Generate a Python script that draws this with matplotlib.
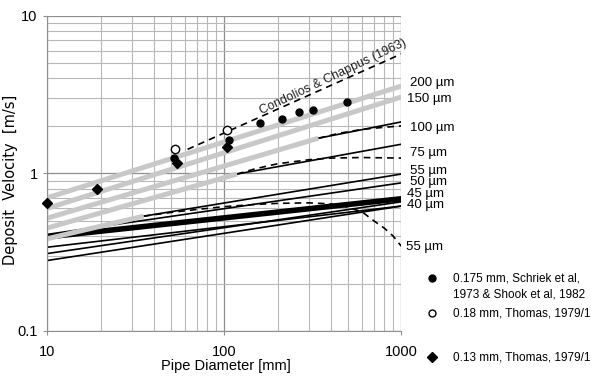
import numpy as np
import matplotlib.pyplot as plt
from matplotlib.lines import Line2D
from matplotlib.ticker import LogLocator, NullFormatter, FixedLocator, FixedFormatter

plt.rcParams['font.family'] = ['Liberation Sans', 'DejaVu Sans']

#############################
### Data ###

# grey lines (model, straight part)
g200_x, g200_y = [10, 1000], [0.70, 3.58]
g150_x, g150_y = [10, 1000], [0.60, 3.05]
g100_x, g100_y = [10, 340], [0.52, 1.67]
g75_x, g75_y = [10, 118], [0.45, 0.99]
g55_x, g55_y = [10, 35], [0.385, 0.535]

# black solid lines
s100_x, s100_y = [340, 1000], [1.67, 2.12]
s75_x, s75_y = [118, 1000], [0.99, 1.53]
s55_x, s55_y = [35, 1000], [0.535, 0.99]
s50_x, s50_y = [10, 1000], [0.41, 0.87]
s45_x, s45_y = [10, 1000], [0.395, 0.69]
s40_x, s40_y = [10, 1000], [0.34, 0.62]
s_low1_x, s_low1_y = [10, 1000], [0.31, 0.66]
s_low2_x, s_low2_y = [10, 1000], [0.28, 0.62]

# black dashed lines
d100_x = [340, 450, 600, 800, 1000]
d100_y = [1.67, 1.80, 1.90, 1.96, 2.0]
d75_x = [118, 150, 200, 300, 400, 600, 1000]
d75_y = [0.99, 1.07, 1.15, 1.22, 1.25, 1.26, 1.25]
d55_x = [35, 50, 70, 100, 150, 200, 300, 400, 500, 600, 700, 800, 900, 1000]
d55_y = [0.535, 0.565, 0.59, 0.615, 0.635, 0.645, 0.65, 0.64, 0.61, 0.57, 0.50, 0.45, 0.40, 0.345]

# Condolios & Chappus (1963)
cc_x, cc_y = [62, 1000], [1.42, 5.72]

# measurements
schriek_x = [52, 107, 159, 212, 264, 317, 493]
schriek_y = [1.25, 1.63, 2.09, 2.21, 2.45, 2.52, 2.84]
thomas18_x = [53, 104]
thomas18_y = [1.43, 1.88]
thomas13_x = [10, 19, 54, 104]
thomas13_y = [0.65, 0.80, 1.17, 1.47]

# right hand labels
lab_text = ['200 \u00b5m', '150 \u00b5m', '100 \u00b5m', '75 \u00b5m', '55 \u00b5m',
            '50 \u00b5m', '45 \u00b5m', '40 \u00b5m', '55 \u00b5m']
lab_y = [3.73, 2.96, 1.94, 1.35, 1.03, 0.877, 0.74, 0.63, 0.34]
lab_dx = [0.025, 0.017, 0.026, 0.024, 0.026, 0.026, 0.017, 0.017, 0.012]
#############################

fig = plt.figure(figsize=(6.08, 3.76), dpi=100)
ax = fig.add_axes([0.0778, 0.1197, 0.5822, 0.8385])
ax.set_xscale('log')
ax.set_yscale('log')
ax.set_xlim(10, 1000)
ax.set_ylim(0.1, 10)

ax.grid(True, which='major', color='#8f8f8f', lw=0.9)
ax.grid(True, which='minor', color='#b8b8b8', lw=0.8)
ax.set_axisbelow(True)
for s in ax.spines.values():
    s.set_visible(False)
ax.spines['left'].set_visible(True)
ax.spines['left'].set_color('#8f8f8f')
ax.spines['bottom'].set_visible(True)
ax.spines['bottom'].set_color('#8f8f8f')

ax.xaxis.set_major_locator(FixedLocator([10, 100, 1000]))
ax.xaxis.set_major_formatter(FixedFormatter(['10', '100', '1000']))
ax.yaxis.set_major_locator(FixedLocator([0.1, 1, 10]))
ax.yaxis.set_major_formatter(FixedFormatter(['0.1', '1', '10']))
ax.xaxis.set_minor_locator(LogLocator(base=10, subs=np.arange(2, 10)))
ax.yaxis.set_minor_locator(LogLocator(base=10, subs=np.arange(2, 10)))
ax.xaxis.set_minor_formatter(NullFormatter())
ax.yaxis.set_minor_formatter(NullFormatter())
ax.tick_params(which='major', length=3, color='#8f8f8f', labelsize=10.5)
ax.tick_params(which='minor', length=0)
ax.tick_params(axis='x', pad=7)
ax.tick_params(axis='y', pad=4)

ax.set_xlabel('Pipe Diameter [mm]', fontsize=10.5, va='top')
ax.xaxis.set_label_coords(0.505, -0.089)
ax.set_ylabel('Deposit  Velocity  [m/s]', fontsize=10.5, family='DejaVu Sans')
ax.yaxis.set_label_coords(-0.083, 0.48)

blk = dict(color='black', lw=1.2, solid_capstyle='butt')
dsh = dict(color='black', lw=1.2, ls=(0, (4, 3)))
gry = dict(color='#c8c8c8', lw=3.6, solid_capstyle='butt')

# black solid
for xx, yy in [(s100_x, s100_y), (s75_x, s75_y), (s55_x, s55_y), (s50_x, s50_y),
               (s40_x, s40_y), (s_low1_x, s_low1_y), (s_low2_x, s_low2_y)]:
    ax.plot(xx, yy, **blk)
ax.plot(s45_x, s45_y, color='black', lw=4, solid_capstyle='butt')

# black dashed
for xx, yy in [(d100_x, d100_y), (d75_x, d75_y), (d55_x, d55_y), (cc_x, cc_y)]:
    ax.plot(xx, yy, **dsh)

# grey
for xx, yy in [(g200_x, g200_y), (g150_x, g150_y), (g100_x, g100_y), (g75_x, g75_y), (g55_x, g55_y)]:
    ax.plot(xx, yy, **gry)

ax.plot(schriek_x, schriek_y, 'o', color='black', ms=5, clip_on=False, zorder=5)
ax.plot(thomas18_x, thomas18_y, 'o', mfc='white', mec='black', mew=1, ms=6, clip_on=False, zorder=5)
ax.plot(thomas13_x, thomas13_y, 'D', color='black', ms=5.5, clip_on=False, zorder=5)

ax.text(411, 4.09, 'Condolios & Chappus (1963)', rotation=25.5, rotation_mode='anchor',
        ha='center', va='center', fontsize=9, color='#222222')

trans = ax.get_yaxis_transform()
for t, y, dx in zip(lab_text, lab_y, lab_dx):
    ax.text(1 + dx, y, t, transform=trans, ha='left', va='center', fontsize=9.5, clip_on=False)

# legend on the right
leg = [('o', 'black', 'black', 278 / 376, '0.175 mm, Schriek et al,\n1973 & Shook et al, 1982', 286.5 / 376),
       ('o', 'white', 'black', 313 / 376, '0.18 mm, Thomas, 1979/1', 313 / 376),
       ('D', 'black', 'black', 357 / 376, '0.13 mm, Thomas, 1979/1', 357 / 376)]
for m, fc, ec, my, txt, ty in leg:
    fig.add_artist(Line2D([432 / 608], [1 - my], marker=m, mfc=fc, mec=ec, ms=5, ls='none',
                          transform=fig.transFigure))
    fig.text(453 / 608, 1 - ty, txt, ha='left', va='center', fontsize=8.5, linespacing=1.45)

fig.savefig('out.png', dpi=100)
